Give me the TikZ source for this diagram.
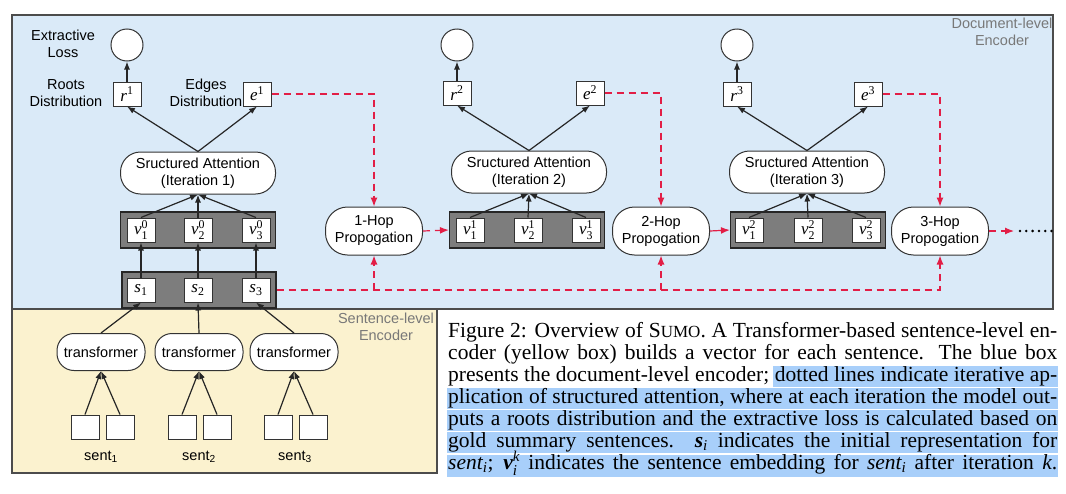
\documentclass[tikz,border=0pt]{standalone}
\usepackage{amsmath}
\usepackage{fontspec}
\setmainfont{Liberation Serif}
\setsansfont{Liberation Sans}
\usetikzlibrary{arrows.meta}
\definecolor{docblue}{RGB}{218,234,248}
\definecolor{sentyellow}{RGB}{251,242,207}
\definecolor{rowgray}{RGB}{125,125,125}
\definecolor{hopred}{RGB}{226,30,70}
\definecolor{selblue}{RGB}{168,207,250}
\definecolor{labelgray}{RGB}{120,120,120}
\newcommand{\tit}[1]{\text{\rmfamily\mdseries\itshape #1}}
\newcommand{\tbf}[1]{\text{\rmfamily\bfseries\itshape #1}}
\newcommand{\tup}[1]{\text{\rmfamily\mdseries\upshape #1}}
\newcommand{\capfont}{\rmfamily\fontsize{21.5}{22}\selectfont}
\begin{document}
\begin{tikzpicture}[x=1pt,y=-1pt,
    font=\sffamily\fontsize{14.5}{17}\selectfont,
    loss/.style={draw=black!80,fill=white,circle,minimum size=32pt,inner sep=0pt,line width=1pt},
    vec/.style={draw=black!80,fill=white,minimum width=28pt,minimum height=24pt,inner sep=0pt,line width=1pt},
    vecrow/.style={draw=black!85,fill=rowgray,minimum width=155pt,minimum height=36pt,inner sep=0pt,line width=1.2pt},
    attn/.style={draw=black!80,fill=white,rounded corners=20pt,minimum width=155pt,minimum height=42pt,align=center,inner sep=0pt,line width=1pt},
    hop/.style={draw=black!80,fill=white,rounded corners=22pt,minimum width=97pt,minimum height=48pt,align=center,inner sep=0pt,line width=1pt},
    enc/.style={draw=black!80,fill=white,rounded corners=17pt,minimum width=88pt,minimum height=37pt,inner sep=0pt,line width=1pt},
    boxlabel/.style={text=labelgray,align=center,inner sep=0pt},
    arr/.style={-{Latex[length=8pt,width=6pt]},line width=1.2pt,black!85},
    redline/.style={hopred,line width=1.2pt,dash pattern=on 7pt off 5pt},
    redarr/.style={redline,-{Latex[length=9pt,width=7pt]}},
    capline/.style={anchor=base west,inner sep=0pt}]
        \useasboundingbox (0,0) rectangle (1066,493);
        %% encoder boxes
        \draw[draw=black!70,fill=docblue,line width=1.2pt] (12,15) rectangle (1053,309);
        \draw[draw=black!70,fill=sentyellow,line width=1.2pt] (12,309) rectangle (437,473);
        \node[boxlabel] (DL) at (1002,32) {Document-level\\Encoder};
        \node[boxlabel] (SL) at (386,327) {Sentence-level\\Encoder};
        %% losses
        \node[loss] (L1) at (127,45) {};
        \node[loss] (L2) at (457,45) {};
        \node[loss] (L3) at (737,45) {};
        \node[align=center] (XL) at (63,44) {Extractive\\Loss};
        %% roots and edges
        \node[vec] (r1) at (127,94) {\fontsize{17}{17}\selectfont$\tit{r}^{\tup{1}}$};
        \node[vec] (e1) at (257,94) {\fontsize{17}{17}\selectfont$\tit{e}^{\tup{1}}$};
        \node[vec] (r2) at (457,93) {\fontsize{17}{17}\selectfont$\tit{r}^{\tup{2}}$};
        \node[vec] (e2) at (590,93) {\fontsize{17}{17}\selectfont$\tit{e}^{\tup{2}}$};
        \node[vec] (r3) at (737,94) {\fontsize{17}{17}\selectfont$\tit{r}^{\tup{3}}$};
        \node[vec] (e3) at (868,94) {\fontsize{17}{17}\selectfont$\tit{e}^{\tup{3}}$};
        \node[align=center] (RD) at (66,93) {Roots\\Distribution};
        \node[align=center] (ED) at (206,93) {Edges\\Distribution};
        %% structured attention
        \node[attn] (SA1) at (198,173) {Sructured Attention\\(Iteration 1)};
        \node[attn] (SA2) at (529,172) {Sructured Attention\\(Iteration 2)};
        \node[attn] (SA3) at (807,172) {Sructured Attention\\(Iteration 3)};
        %% sentence embeddings
        \node[vecrow] (V1) at (198,230) {};
        \node[vecrow] (V2) at (527,230) {};
        \node[vecrow] (V3) at (808,230) {};
        \node[vec] (v01) at (141,230) {\fontsize{17}{17}\selectfont$\tit{v}_{\tup{1}}^{\tup{0}}$};
        \node[vec] (v02) at (198,230) {\fontsize{17}{17}\selectfont$\tit{v}_{\tup{2}}^{\tup{0}}$};
        \node[vec] (v03) at (256,230) {\fontsize{17}{17}\selectfont$\tit{v}_{\tup{3}}^{\tup{0}}$};
        \node[vec] (v11) at (470,230) {\fontsize{17}{17}\selectfont$\tit{v}_{\tup{1}}^{\tup{1}}$};
        \node[vec] (v12) at (528,230) {\fontsize{17}{17}\selectfont$\tit{v}_{\tup{2}}^{\tup{1}}$};
        \node[vec] (v13) at (586,230) {\fontsize{17}{17}\selectfont$\tit{v}_{\tup{3}}^{\tup{1}}$};
        \node[vec] (v21) at (749,230) {\fontsize{17}{17}\selectfont$\tit{v}_{\tup{1}}^{\tup{2}}$};
        \node[vec] (v22) at (808,230) {\fontsize{17}{17}\selectfont$\tit{v}_{\tup{2}}^{\tup{2}}$};
        \node[vec] (v23) at (866,230) {\fontsize{17}{17}\selectfont$\tit{v}_{\tup{3}}^{\tup{2}}$};
        %% initial representations
        \node[vecrow,minimum width=154pt] (S) at (199,290) {};
        \node[vec] (s1) at (141,290) {\fontsize{17}{17}\selectfont$\tit{s}_{\tup{1}}$};
        \node[vec] (s2) at (198,290) {\fontsize{17}{17}\selectfont$\tit{s}_{\tup{2}}$};
        \node[vec] (s3) at (256,290) {\fontsize{17}{17}\selectfont$\tit{s}_{\tup{3}}$};
        %% propagation
        \node[hop] (H1) at (374,231) {1-Hop\\Propogation};
        \node[hop] (H2) at (661,231) {2-Hop\\Propogation};
        \node[hop] (H3) at (940,231) {3-Hop\\Propogation};
        \coordinate (D0) at (1014,231);
        \coordinate (D1) at (1053,231);
        %% sentence-level encoder
        \node[enc] (T1) at (101,352) {transformer};
        \node[enc] (T2) at (199,352) {transformer};
        \node[enc] (T3) at (294,352) {transformer};
        \node[vec] (w1a) at (85,427) {};
        \node[vec] (w1b) at (120,427) {};
        \node[vec] (w2a) at (182,427) {};
        \node[vec] (w2b) at (217,427) {};
        \node[vec] (w3a) at (278,427) {};
        \node[vec] (w3b) at (313,427) {};
        \node (n1) at (101,457) {sent\textsubscript{1}};
        \node (n2) at (199,457) {sent\textsubscript{2}};
        \node (n3) at (295,457) {sent\textsubscript{3}};
        %% black arrows
        \draw[arr] (r1.north) -- (L1.south);
        \draw[arr] (r2.north) -- (L2.south);
        \draw[arr] (r3.north) -- (L3.south);
        \draw[arr] (SA1.north) -- (r1.south);
        \draw[arr] (SA1.north) -- (e1.south);
        \draw[arr] (SA2.north) -- (r2.south);
        \draw[arr] (SA2.north) -- (e2.south);
        \draw[arr] (SA3.north) -- (r3.south);
        \draw[arr] (SA3.north) -- (e3.south);
        \draw[arr] (v01.north) -- (SA1.south);
        \draw[arr] (v02.north) -- (SA1.south);
        \draw[arr] (v03.north) -- (SA1.south);
        \draw[arr] (v11.north) -- (SA2.south);
        \draw[arr] (v12.north) -- (SA2.south);
        \draw[arr] (v13.north) -- (SA2.south);
        \draw[arr] (v21.north) -- (SA3.south);
        \draw[arr] (v22.north) -- (SA3.south);
        \draw[arr] (v23.north) -- (SA3.south);
        \draw[arr] (s1.north) -- (v01.south);
        \draw[arr] (s2.north) -- (v02.south);
        \draw[arr] (s3.north) -- (v03.south);
        \draw[arr] (T1.north) -- (s1.south);
        \draw[arr] (T2.north) -- (s2.south);
        \draw[arr] (T3.north) -- (s3.south);
        \draw[arr] (w1a.north) -- (T1.south);
        \draw[arr] (w1b.north) -- (T1.south);
        \draw[arr] (w2a.north) -- (T2.south);
        \draw[arr] (w2b.north) -- (T2.south);
        \draw[arr] (w3a.north) -- (T3.south);
        \draw[arr] (w3b.north) -- (T3.south);
        %% red hops
        \draw[redarr] (e1.east) -| (H1.north);
        \draw[redarr] (e2.east) -| (H2.north);
        \draw[redarr] (e3.east) -| (H3.north);
        \draw[redarr] (S.east) -| (H3.south);
        \draw[redarr] (H1.south |- S.east) -- (H1.south);
        \draw[redarr] (H2.south |- S.east) -- (H2.south);
        \draw[redarr] (H1.east) -- (V2.west);
        \draw[redarr,solid] (H2.east) -- (V3.west);
        \draw[redarr] (H3.east) -- (D0);
        \draw[black,line width=2.8pt,line cap=round,dash pattern=on 0pt off 6.3pt] ([xshift=6pt]D0) -- (D1);
        %% caption
        \fill[selblue] (773,366) rectangle (1058,387);
        \fill[selblue] (447,388) rectangle (1058,409);
        \fill[selblue] (447,410) rectangle (1058,431);
        \fill[selblue] (447,432) rectangle (1058,453);
        \fill[selblue] (447,455) rectangle (1058,477);
        \node[capline] (c1) at (448,337) {\capfont\makebox[609pt][s]{Figure 2: Overview of S{\fontsize{17}{17}\selectfont UMO}. A Transformer-based sentence-level en-}};
        \node[capline] (c2) at (448,359) {\capfont\makebox[609pt][s]{coder (yellow box) builds a vector for each sentence.  The blue box}};
        \node[capline] (c3) at (448,381) {\capfont\makebox[609pt][s]{presents the document-level encoder; dotted lines indicate iterative ap-}};
        \node[capline] (c4) at (448,403) {\capfont\makebox[609pt][s]{plication of structured attention, where at each iteration the model out-}};
        \node[capline] (c5) at (448,425) {\capfont\makebox[609pt][s]{puts a roots distribution and the extractive loss is calculated based on}};
        \node[capline] (c6) at (448,447.5) {\capfont\makebox[609pt][s]{gold summary sentences.  $\tbf{s}_{\tit{i}}$ indicates the initial representation for}};
        \node[capline] (c7) at (448,469.5) {\capfont\makebox[609pt][s]{$\tit{sent}_{\tit{i}}$; $\tbf{v}_{\tit{i}}^{\tit{k}}$ indicates the sentence embedding for $\tit{sent}_{\tit{i}}$ after iteration $\tit{k}$.}};
    \end{tikzpicture}
\end{document}
